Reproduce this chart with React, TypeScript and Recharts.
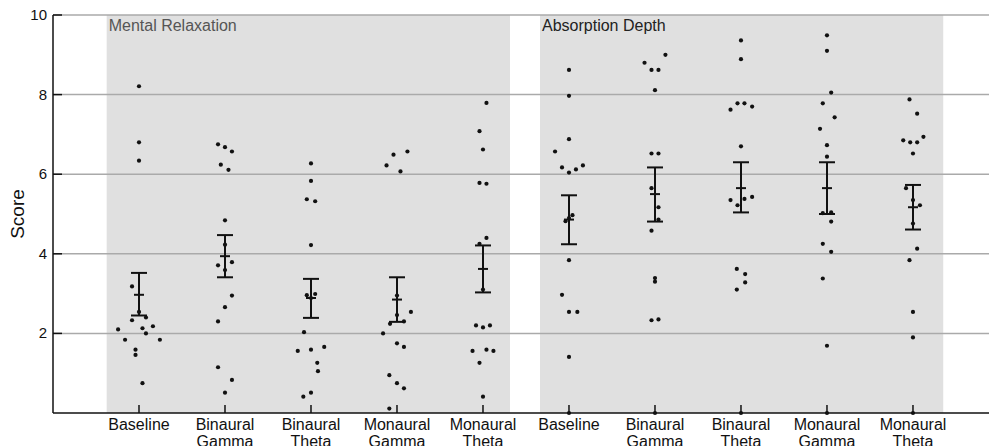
import React from 'react';
import {
  ComposedChart,
  Scatter,
  XAxis,
  YAxis,
  ReferenceArea,
  ReferenceLine,
  ErrorBar,
} from 'recharts';

const categories = ['Baseline', 'Binaural Gamma', 'Binaural Theta', 'Monaural Gamma', 'Monaural Theta'];
const conditions = ['Mental Relaxation', 'Absorption Depth'];
const yTicks = [2, 4, 6, 8, 10];

// individual scores per category
const relaxationScores = [
  [8.21, 6.8, 6.34, 3.18, 2.54, 2.33, 2.4, 2.1, 2.13, 2.18, 2.0, 1.84, 1.84, 1.59, 1.46, 0.75],
  [6.75, 6.68, 6.57, 6.24, 6.11, 4.84, 4.23, 3.71, 3.79, 3.59, 2.95, 2.66, 2.3, 1.15, 0.83, 0.51],
  [6.27, 5.83, 5.37, 5.32, 4.22, 2.96, 2.99, 2.89, 2.03, 1.56, 1.59, 1.66, 1.26, 1.05, 0.41, 0.51],
  [6.22, 6.49, 6.57, 6.07, 2.95, 2.46, 2.24, 2.3, 2.54, 2.0, 1.75, 1.66, 0.95, 0.75, 0.62, 0.11],
  [7.79, 7.08, 6.62, 5.78, 5.76, 4.4, 4.25, 3.1, 2.2, 2.15, 2.2, 1.56, 1.59, 1.56, 1.26, 0.41],
];
// horizontal jitter of each dot, in dot-widths
const relaxationJitter = [
  [0, 0, 0, -1, 0, -1, 1, -3, 0.5, 2, 1, -2, 3, -0.5, -0.5, 0.5],
  [-1, 0, 1, -0.6, 0.5, 0, 0, -1, 1, 0, 1, 0, -1, -1, 1, 0],
  [0, 0, -0.6, 0.6, 0, -0.6, 0.6, 0, -1, -1.9, 0, 1.9, 0.9, 1, -1.1, 0],
  [-1.5, -0.5, 1.5, 0.5, 0, 0, -1, 1, 2, -2, 0, 1, -1.1, 0, 1, -1.1],
  [0.5, -0.5, 0, -0.5, 0.5, 0.5, -0.5, 0, -1, 0, 1, -1.5, 0.5, 1.5, -0.5, 0],
];
const absorptionScores = [
  [8.62, 7.97, 6.88, 6.57, 6.17, 6.04, 6.12, 6.22, 4.82, 4.9, 4.97, 3.84, 2.97, 2.54, 2.54, 1.41, 0],
  [9.0, 8.8, 8.62, 8.62, 8.11, 6.52, 6.52, 5.65, 5.17, 4.86, 4.58, 3.39, 3.3, 2.33, 2.35, 0],
  [9.36, 8.89, 7.62, 7.78, 7.78, 7.7, 6.7, 5.35, 5.22, 5.38, 5.43, 3.62, 3.49, 3.28, 3.1, 0],
  [9.49, 9.1, 8.05, 7.78, 7.43, 7.14, 6.73, 6.44, 5.02, 5.04, 4.81, 4.25, 4.05, 3.38, 1.69, 0],
  [7.88, 7.52, 6.85, 6.8, 6.8, 6.94, 6.52, 5.65, 5.35, 5.22, 4.76, 4.13, 3.84, 2.54, 1.9, 0],
];
const absorptionJitter = [
  [0, 0, 0, -2, -1, 0, 1, 2, -0.5, 0, 0.5, 0, -1, 0, 1.2, 0, 0],
  [1.5, -1.5, -0.5, 0.5, 0, -0.5, 0.5, -0.5, 0.5, 0.5, -0.5, 0, 0, -0.5, 0.5, 0],
  [0, 0, -1.5, -0.5, 0.5, 1.6, 0, -1.5, -0.5, 0.5, 1.6, -0.6, 0.6, 0.6, -0.6, 0],
  [0, 0, 0.6, -0.6, 1.1, -1, 0, 0, -0.6, 0.6, 0.6, -0.6, 0.6, -0.6, 0, 0],
  [-0.5, 0.6, -1.4, -0.4, 0.6, 1.5, 0, -1, 0, 1, 0, 0.6, -0.5, 0, 0, 0],
];

const relaxationMeans = [2.97, 3.94, 2.89, 2.85, 3.62];
const relaxationLow = [2.45, 3.41, 2.39, 2.29, 3.03];
const relaxationHigh = [3.52, 4.47, 3.37, 3.41, 4.21];
const absorptionMeans = [4.86, 5.5, 5.65, 5.65, 5.17];
const absorptionLow = [4.24, 4.81, 5.04, 5.0, 4.61];
const absorptionHigh = [5.47, 6.17, 6.3, 6.3, 5.73];

const JITTER_STEP = 0.081;
const FONT = '"Liberation Sans", Arial, Helvetica, sans-serif';

const tickLabels = [...categories, ...categories];
const xTicks = tickLabels.map((_, i) => i + 1);

const toPoints = (scores: number[][], jitter: number[][], start: number) =>
  scores.flatMap((vals, c) =>
    vals.map((v, j) => ({ x: start + c + jitter[c][j] * JITTER_STEP, y: v }))
  );

const points = [
  ...toPoints(relaxationScores, relaxationJitter, 1),
  ...toPoints(absorptionScores, absorptionJitter, 6),
];

const means = [
  ...relaxationMeans.map((m, i) => ({
    x: i + 1,
    y: m,
    err: [m - relaxationLow[i], relaxationHigh[i] - m],
  })),
  ...absorptionMeans.map((m, i) => ({
    x: i + 6,
    y: m,
    err: [m - absorptionLow[i], absorptionHigh[i] - m],
  })),
];

const Dot = (props: any) => <circle cx={props.cx} cy={props.cy} r={2.1} fill="#111" />;

const MeanTick = (props: any) => (
  <line x1={props.cx - 5} x2={props.cx + 5} y1={props.cy} y2={props.cy} stroke="#111" strokeWidth={2} />
);

const XTick = (props: any) => {
  const { x, y, payload } = props;
  const words = tickLabels[payload.value - 1].split(' ');
  return (
    <g>
      <line x1={x} x2={x} y1={y - 8} y2={y} stroke="#111" strokeWidth={1.5} />
      {words.map((w: string, i: number) => (
        <text
          key={i}
          x={x}
          y={y + 17 + i * 17}
          textAnchor="middle"
          fontFamily={FONT}
          fontSize={16}
          fill="#111"
        >
          {w}
        </text>
      ))}
    </g>
  );
};

const YTick = (props: any) => {
  const { x, y, payload } = props;
  return (
    <g>
      <line x1={x} x2={x + 9} y1={y} y2={y} stroke="#111" strokeWidth={1.5} />
      <text x={x - 6} y={y + 5} textAnchor="end" fontFamily={FONT} fontSize={15} fill="#111">
        {payload.value}
      </text>
    </g>
  );
};

const groupTitle = (text: string, color: string) => (props: any) => (
  <text
    x={props.viewBox.x + 2}
    y={props.viewBox.y + 16}
    fontFamily={FONT}
    fontSize={16}
    fill={color}
  >
    {text}
  </text>
);

export default function App() {
  return (
    <div style={{ position: 'absolute', left: 0, top: 0, fontFamily: FONT }}>
      <ComposedChart width={989} height={446} margin={{ top: 15, right: 0, left: 0, bottom: 3 }}>
        <ReferenceArea
          x1={0.624}
          x2={5.314}
          y1={0}
          y2={10}
          fill="#e0e0e0"
          fillOpacity={1}
          stroke="none"
          label={groupTitle(conditions[0], '#555')}
        />
        <ReferenceArea
          x1={5.663}
          x2={10.352}
          y1={0}
          y2={10}
          fill="#e0e0e0"
          fillOpacity={1}
          stroke="none"
          label={groupTitle(conditions[1], '#222')}
        />
        {yTicks.map((t) => (
          <ReferenceLine key={t} y={t} stroke="#aaa" strokeWidth={1.5} />
        ))}
        <XAxis
          type="number"
          dataKey="x"
          domain={[0, 10.884]}
          ticks={xTicks}
          interval={0}
          height={30}
          tickSize={0}
          tickMargin={0}
          tick={<XTick />}
          axisLine={{ stroke: '#111', strokeWidth: 1.5 }}
          allowDataOverflow
        />
        <YAxis
          type="number"
          dataKey="y"
          domain={[0, 10]}
          ticks={yTicks}
          width={53}
          tickSize={0}
          tickMargin={0}
          tick={<YTick />}
          axisLine={{ stroke: '#111', strokeWidth: 1.5 }}
          label={{
            value: 'Score',
            angle: -90,
            position: 'insideLeft',
            offset: 17,
            fontSize: 19,
            fill: '#111',
            fontFamily: FONT,
            style: { textAnchor: 'middle' },
          }}
        />
        <Scatter data={points} shape={<Dot />} isAnimationActive={false} />
        <Scatter data={means} shape={<MeanTick />} isAnimationActive={false}>
          <ErrorBar dataKey="err" direction="y" width={8} stroke="#111" strokeWidth={2} isAnimationActive={false} />
        </Scatter>
      </ComposedChart>
    </div>
  );
}
